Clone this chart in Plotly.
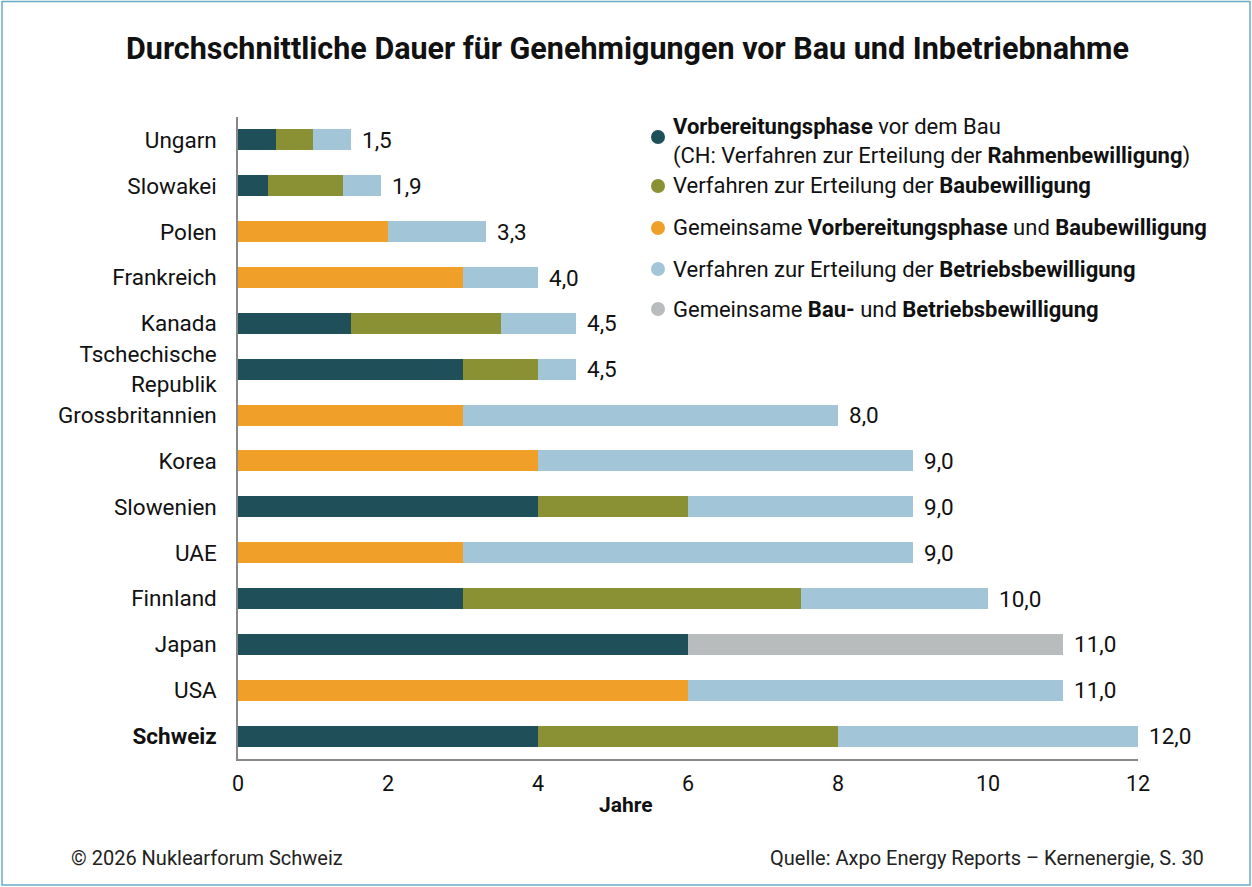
import plotly.graph_objects as go

countries = ["Ungarn", "Slowakei", "Polen", "Frankreich", "Kanada", "Tschechische<br>Republik",
             "Grossbritannien", "Korea", "Slowenien", "UAE", "Finnland", "Japan", "USA", "<b>Schweiz</b>"]
vorbereitung = [0.5, 0.4, 0, 0, 1.5, 3.0, 0, 0, 4.0, 0, 3.0, 6.0, 0, 4.0]
baubewilligung = [0.5, 1.0, 0, 0, 2.0, 1.0, 0, 0, 2.0, 0, 4.5, 0, 0, 4.0]
gemeinsam_vb = [0, 0, 2.0, 3.0, 0, 0, 3.0, 4.0, 0, 3.0, 0, 0, 6.0, 0]
betrieb = [0.5, 0.5, 1.3, 1.0, 1.0, 0.5, 5.0, 5.0, 3.0, 6.0, 2.5, 0, 5.0, 4.0]
gemeinsam_bb = [0, 0, 0, 0, 0, 0, 0, 0, 0, 0, 0, 5.0, 0, 0]
totals = [1.5, 1.9, 3.3, 4.0, 4.5, 4.5, 8.0, 9.0, 9.0, 9.0, 10.0, 11.0, 11.0, 12.0]
x_ticks = [0, 2, 4, 6, 8, 10, 12]

series = [
    ("Vorbereitungsphase", vorbereitung, "#1f4f58"),
    ("Baubewilligung", baubewilligung, "#8a9034"),
    ("Gemeinsame Vorbereitungsphase und Baubewilligung", gemeinsam_vb, "#f0a028"),
    ("Betriebsbewilligung", betrieb, "#a3c5d8"),
    ("Gemeinsame Bau- und Betriebsbewilligung", gemeinsam_bb, "#b9bcbd"),
]
legend_texts = [
    "<b>Vorbereitungsphase</b> vor dem Bau<br>(CH: Verfahren zur Erteilung der <b>Rahmenbewilligung</b>)",
    "Verfahren zur Erteilung der <b>Baubewilligung</b>",
    "Gemeinsame <b>Vorbereitungsphase</b> und <b>Baubewilligung</b>",
    "Verfahren zur Erteilung der <b>Betriebsbewilligung</b>",
    "Gemeinsame <b>Bau-</b> und <b>Betriebsbewilligung</b>",
]

W, H = 1252, 887
L, R, T, B = 238, 1138, 117, 759
FONT = "Roboto"

def px(x):
    return (x - L) / (R - L)

def py(y):
    return (B - y) / (B - T)

fig = go.Figure()
for name, vals, col in series:
    fig.add_trace(go.Bar(
        y=countries, x=vals, orientation="h", name=name,
        marker=dict(color=col, line=dict(width=0)), showlegend=False,
        hoverinfo="x+name",
    ))

annotations = []
for c, t in zip(countries, totals):
    annotations.append(dict(
        x=t, y=c, xref="x", yref="y", text=f"{t:.1f}".replace(".", ","),
        showarrow=False, xanchor="left", yanchor="middle", xshift=9,
        font=dict(family=FONT, size=22.5, color="#111"),
    ))

shapes = []
legend_y = [141, 186, 228, 269, 309]
circle_y = [137, 186, 228, 269, 309]
for (name, vals, col), txt, ly, cy in zip(series, legend_texts, legend_y, circle_y):
    annotations.append(dict(
        x=px(671), y=py(ly), xref="paper", yref="paper", text=txt, showarrow=False,
        xanchor="left", yanchor="middle", align="left",
        font=dict(family=FONT, size=22, color="#111"),
    ))
    shapes.append(dict(
        type="circle", xref="paper", yref="paper",
        x0=px(651), x1=px(665), y0=py(cy + 7), y1=py(cy - 7),
        fillcolor=col, line=dict(width=0),
    ))

annotations += [
    dict(x=px(627), y=py(48), xref="paper", yref="paper", xanchor="center", yanchor="middle",
         text="<b>Durchschnittliche Dauer für Genehmigungen vor Bau und Inbetriebnahme</b>",
         showarrow=False, font=dict(family=FONT, size=30.5, color="#111")),
    dict(x=px(69), y=py(858), xref="paper", yref="paper", xanchor="left", yanchor="middle",
         text="© 2026 Nuklearforum Schweiz", showarrow=False,
         font=dict(family=FONT, size=20, color="#222")),
    dict(x=px(1206), y=py(858), xref="paper", yref="paper", xanchor="right", yanchor="middle",
         text="Quelle: Axpo Energy Reports – Kernenergie, S. 30", showarrow=False,
         font=dict(family=FONT, size=20, color="#222")),
    dict(x=px(626), y=py(805), xref="paper", yref="paper", xanchor="center", yanchor="middle",
         text="<b>Jahre</b>", showarrow=False,
         font=dict(family=FONT, size=21, color="#111")),
]

shapes.append(dict(type="rect", xref="paper", yref="paper",
                   x0=px(2), x1=px(1250), y0=py(885), y1=py(1.5),
                   line=dict(color="#6aaac8", width=1.5), fillcolor="rgba(0,0,0,0)", layer="below"))

fig.update_layout(
    width=W, height=H, barmode="stack", bargap=0.54,
    margin=dict(l=L, r=W - R, t=T, b=H - B, pad=0),
    paper_bgcolor="white", plot_bgcolor="white",
    font=dict(family=FONT, color="#111"),
    xaxis=dict(range=[0, 12], tickvals=x_ticks, ticktext=[str(v) for v in x_ticks],
               showgrid=False, zeroline=False, showline=True, linecolor="#888", linewidth=1.5,
               ticks="outside", ticklen=4, tickcolor="rgba(0,0,0,0)",
               tickfont=dict(family=FONT, size=21.5, color="#111")),
    yaxis=dict(categoryorder="array", categoryarray=countries, autorange="reversed",
               showgrid=False, zeroline=False, showline=True, linecolor="#888", linewidth=1.5,
               ticks="outside", ticklen=15, tickcolor="rgba(0,0,0,0)",
               tickfont=dict(family=FONT, size=22.5, color="#111")),
    annotations=annotations, shapes=shapes, showlegend=False,
)

fig.write_html("out.html", config={"displayModeBar": False},
               post_script="document.body.style.margin='0';")
